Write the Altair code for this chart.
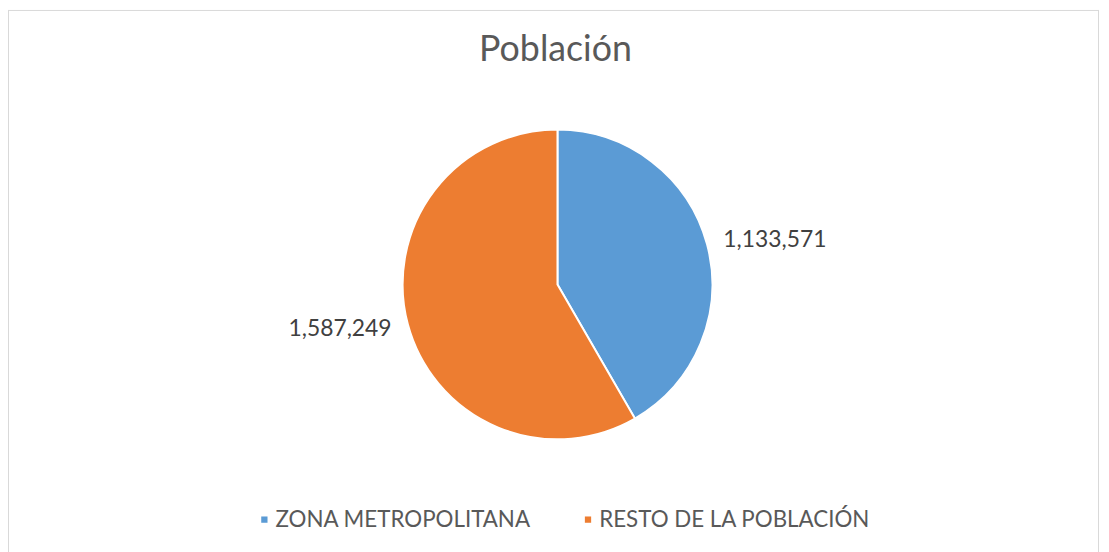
import altair as alt
import pandas as pd

categorias = ["ZONA METROPOLITANA", "RESTO DE LA POBLACIÓN"]
valores = [1133571, 1587249]
colores = ["#5B9BD5", "#ED7D31"]
titulo = "Población"

df = pd.DataFrame({"cat": categorias, "valor": valores, "orden": list(range(len(categorias)))})

W, H = 1101, 544
CX, CY = 553.5, 276.5

base = alt.Chart(df)

pie = base.mark_arc(outerRadius=156, stroke="white", strokeWidth=2).encode(
    theta=alt.Theta("valor:Q", stack=True),
    color=alt.Color(
        "cat:N",
        scale=alt.Scale(domain=categorias, range=colores),
        sort=categorias,
        legend=alt.Legend(
            title=None,
            orient="none",
            legendX=247,
            legendY=502,
            direction="horizontal",
            symbolType="square",
            symbolSize=40,
            symbolStrokeWidth=0,
            labelFont="Lato",
            labelFontSize=22.5,
            labelColor="#595959",
            labelLimit=0,
            columnPadding=46,
            symbolOffset=0,
            labelOffset=0,
        ),
    ),
    order=alt.Order("orden:Q"),
    x=alt.value(CX),
    y=alt.value(CY),
)

lab_base = base.transform_joinaggregate(total="sum(valor)").transform_window(
    cum="sum(valor)", sort=[alt.SortField("orden")], frame=[None, 0]
).transform_calculate(
    mid="(datum.cum - datum.valor/2)/datum.total*2*PI",
    label="format(datum.valor, ',')",
)

def lab(cond, align):
    return lab_base.transform_filter(cond).mark_text(
        align=align, baseline="middle", font="Lato", fontSize=23, color="#404040"
    ).encode(
        theta=alt.Theta("mid:Q", scale=None, stack=None),
        radius=alt.value(173),
        text="label:N",
        x=alt.value(CX),
        y=alt.value(CY),
    )

lab_right = lab("datum.mid < PI", "left")
lab_left = lab("datum.mid >= PI", "right")

title = alt.Chart(pd.DataFrame({"t": [titulo]})).mark_text(
    font="Lato", fontSize=36, color="#595959", baseline="alphabetic", align="center"
).encode(text="t:N", x=alt.value(W / 2 + 1), y=alt.value(51))

border_df = pd.DataFrame({"k": [0]})
bl = alt.Chart(border_df).mark_rule(color="#D9D9D9", strokeWidth=1).encode(
    x=alt.value(0.5), y=alt.value(0), y2=alt.value(H + 10))
br = alt.Chart(border_df).mark_rule(color="#D9D9D9", strokeWidth=1).encode(
    x=alt.value(W - 2.5), y=alt.value(0), y2=alt.value(H + 10))
bt = alt.Chart(border_df).mark_rule(color="#D9D9D9", strokeWidth=1).encode(
    x=alt.value(0), x2=alt.value(W - 2), y=alt.value(0.5))

chart = alt.layer(bl, br, bt, pie, lab_right, lab_left, title).properties(
    width=W, height=H, padding=0, autosize=alt.AutoSizeParams(type="none"),
    background="white",
).configure_view(stroke=None)

chart.save("out.html", embed_options={"renderer": "svg", "actions": False})
